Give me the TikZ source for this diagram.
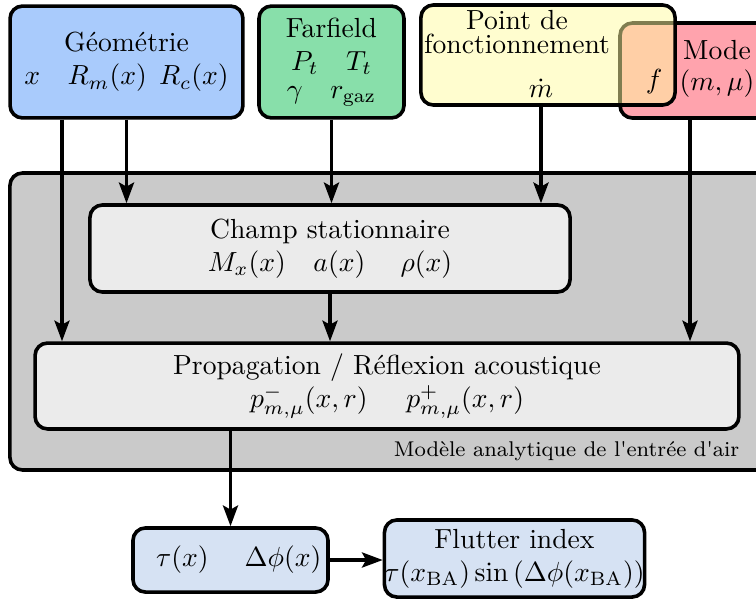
\documentclass[tikz,border=0pt]{standalone}
\usepackage{amsmath}
\usetikzlibrary{arrows.meta}
\definecolor{geoblue}{RGB}{169,203,252}
\definecolor{farfgreen}{RGB}{136,223,170}
\definecolor{ptyellow}{RGB}{255,251,160}
\definecolor{modepink}{RGB}{255,163,173}
\definecolor{modelgray}{RGB}{202,202,202}
\definecolor{blocgray}{RGB}{235,235,235}
\definecolor{outblue}{RGB}{214,226,243}
\tikzset{
  bloc/.style={draw, line width=1.3pt, rounded corners=4.5pt, align=center, inner sep=1pt},
  fleche/.style={line width=1.1pt, -{Stealth[length=7.5pt,width=5.5pt,inset=1.5pt]}},
}

\begin{document}
\begin{tikzpicture}[x=0.362pt,y=-0.362pt]
    \useasboundingbox (0,0) rectangle (756,599);
    \clip (0,0) rectangle (756,599);
    % modele analytique
    \node[bloc, fill=modelgray, minimum width=282.4pt, minimum height=107.5pt] (modele) at (400,321.5) {};
    \node[anchor=east, font=\footnotesize] (lbl) at (749,451) {\scalebox{0.965}{Modèle analytique de l\textquotesingle entrée d\textquotesingle air}};
    % entrees
    \node[bloc, fill=geoblue, minimum width=84.3pt, minimum height=40.5pt] (geo) at (126.5,62) {Géométrie\\ $x\quad R_m(x)\;\, R_c(x)$};
    \node[bloc, fill=farfgreen, minimum width=52.5pt, minimum height=40.5pt] (far) at (331.5,62) {Farfield\\ $P_t\quad T_t$\\[-2pt] $\gamma\quad r_{\text{gaz}}$};
    \node[bloc, fill=modepink, minimum width=57.9pt, minimum height=34.4pt] (mode) at (700,70.5) {};
    \node (modet) at (717,50) {Mode};
    \node (mmu) at (717,84) {$(m,\mu)$};
    \node[bloc, fill=ptyellow, fill opacity=0.5, text opacity=1, minimum width=92pt, minimum height=36.2pt] (pt) at (548,55) {};
    \node[align=center, inner sep=0pt] (ptt) at (517,32) {Point de\\[-3pt]fonctionnement};
    \node (mdot) at (541,88) {$\dot m$};
    \node (freq) at (654,82) {$f$};
    % blocs du modele
    \node[bloc, fill=blocgray, minimum width=173.8pt, minimum height=31.5pt] (champ) at (330,248.5) {Champ stationnaire\\ $M_x(x)\quad a(x)\quad\;\rho(x)$};
    \node[bloc, fill=blocgray, minimum width=254.8pt, minimum height=31.1pt] (prop) at (387,386) {Propagation / Réflexion acoustique\\ $p^-_{m,\mu}(x,r)\hspace{14pt}p^+_{m,\mu}(x,r)$};
    % sorties
    \node[bloc, fill=outblue, minimum width=70.6pt, minimum height=23.2pt] (tau) at (230.5,560) {$\hspace{6pt}\tau(x)\hspace{13pt}\Delta\phi(x)$};
    \node[bloc, fill=outblue, inner sep=0pt, minimum width=90.9pt, minimum height=27.9pt] (flut) at (514.5,558.5) {Flutter index\\ $\tau(x_{\text{BA}})\sin\left(\Delta\phi(x_{\text{BA}})\right)$};
    % fleches
    \draw[fleche] (geo.south -| 62,0) -- (prop.north -| 62,0);
    \draw[fleche] (geo.south) -- (geo.south |- champ.north);
    \draw[fleche] (far.south) -- (far.south |- champ.north);
    \draw[fleche] (pt.south -| mdot) -- (mdot |- champ.north);
    \draw[fleche] (mode.south -| 690,0) -- (prop.north -| 690,0);
    \draw[fleche] (champ.south) -- (champ.south |- prop.north);
    \draw[fleche] (prop.south -| tau.north) -- (tau.north);
    \draw[fleche] (tau.east) -- (tau.east -| flut.west);
\end{tikzpicture}
\end{document}
